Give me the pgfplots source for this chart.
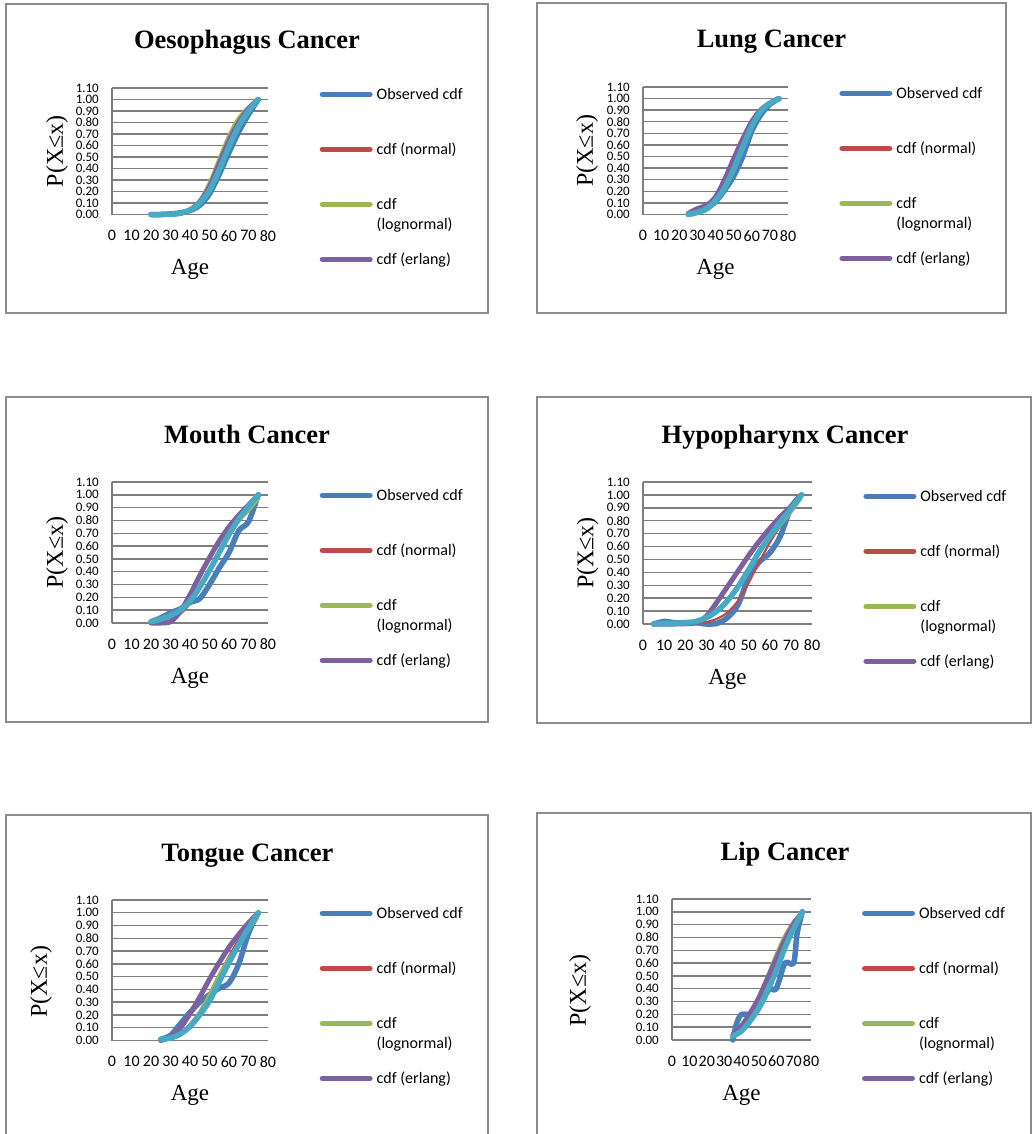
\documentclass[border=0pt]{standalone}
\usepackage{fontspec}
\setmainfont{Liberation Serif}
\newfontfamily\calibri{Carlito}
\usepackage{pgfplots}
\pgfplotsset{compat=1.18}
\definecolor{obs}{HTML}{4A7EBB}
\definecolor{nrm}{HTML}{BE4B48}
\definecolor{lgn}{HTML}{98B954}
\definecolor{erl}{HTML}{7D60A0}
\definecolor{cyn}{HTML}{46AAC5}
\definecolor{gridc}{HTML}{7F7F7F}
\definecolor{framec}{HTML}{8C8C8C}
\pgfplotsset{
  cdf/.style={
    scale only axis, anchor=south west, clip=false,
    xmin=0, xmax=80, ymin=0, ymax=1.1,
    xtick={0,10,...,80},
    ytick={0,0.1,0.2,0.3,0.4,0.5,0.6,0.7,0.8,0.9,1.0,1.1},
    axis lines*=left,
    axis line style={gridc, line width=1.4pt},
    ymajorgrids, major grid style={gridc, line width=1.4pt},
    major tick length=0pt,
    /pgf/number format/assume math mode=true,
    yticklabel style={font=\calibri\fontsize{13}{13}\selectfont, anchor=east, inner sep=0pt, xshift=-13pt,
      /pgf/number format/fixed, /pgf/number format/fixed zerofill, /pgf/number format/precision=2},
    xticklabel style={font=\calibri\fontsize{16}{16}\selectfont, anchor=north, inner sep=0pt, yshift=-15.5pt},
    xlabel={Age}, ylabel={P(X≤x)},
    every axis x label/.style={at={([yshift=-60pt]axis description cs:0.5,0)}, anchor=base, font=\fontsize{23}{23}\selectfont},
    legend image code/.code={\draw[##1, line width=5.5pt, line cap=round] (2.75pt,5.3pt) -- (50.25pt,5.3pt);},
    legend style={anchor=north west, draw=none, fill=none, inner sep=0pt,
      font=\calibri\fontsize{16}{19.5}\selectfont, row sep=44pt, column sep=4pt,
      cells={anchor=base west}, nodes={inner sep=0pt, text height=11pt, text depth=0pt}},
  },
  ylpos/.style 2 args={every axis y label/.style={at={([xshift=-#1, yshift=#2]axis description cs:0,0.5)}, rotate=90, anchor=center, font=\fontsize{24}{24}\selectfont}},
  lgpos/.style 2 args={legend style={at={([xshift=#1, yshift=#2]axis description cs:1,1)}}},
  so/.style={color=obs, line width=5.5pt, smooth, line cap=round, line join=round},
  sn/.style={color=nrm, line width=2.2pt, smooth, line cap=round, line join=round},
  sl/.style={color=lgn, line width=2.2pt, smooth, line cap=round, line join=round},
  se/.style={color=erl, line width=5pt, smooth, line cap=round, line join=round},
  sc/.style={color=cyn, line width=5.5pt, smooth, line cap=round, line join=round},
}
\newcommand{\legs}{\legend{Observed cdf, cdf (normal), {\begin{tabular}[t]{@{}l@{}}cdf\\(lognormal)\end{tabular}}, cdf (erlang)}}
\begin{document}
\begin{tikzpicture}
\useasboundingbox (0,0) rectangle (1032pt,-1134pt);
\begin{scope}[draw=framec, line width=1.3pt]
\draw (6pt,-4pt) rectangle (488pt,-313pt);
\draw (537pt,-3pt) rectangle (1006pt,-313pt);
\draw (6pt,-397pt) rectangle (488pt,-722pt);
\draw (537pt,-397pt) rectangle (1031pt,-723pt);
\draw (6pt,-815pt) rectangle (488pt,-1160pt);
\draw (537pt,-813pt) rectangle (1031pt,-1160pt);
\end{scope}
\begin{scope}[font=\bfseries\fontsize{26.5}{30}\selectfont]
\node[anchor=base] at (247pt,-49pt) {Oesophagus Cancer};
\node[anchor=base] at (771.5pt,-48pt) {Lung Cancer};
\node[anchor=base] at (247pt,-443pt) {Mouth Cancer};
\node[anchor=base] at (785pt,-443pt) {Hypopharynx Cancer};
\node[anchor=base] at (247.5pt,-861.5pt) {Tongue Cancer};
\node[anchor=base] at (785pt,-860pt) {Lip Cancer};
\end{scope}

% Oesophagus
\begin{axis}[cdf, at={(112pt,-214.5pt)}, width=156pt, height=126.5pt, ylpos={55pt}{0pt}, lgpos={51.5pt}{-0.5pt}]
\addplot[so] coordinates {(20,0) (25,0) (30,0.005) (35,0.015) (40,0.035) (45,0.08) (50,0.18) (55,0.35) (60,0.54) (65,0.72) (70,0.87) (75,1.0)};
\addplot[sn] coordinates {(20,0) (25,0) (30,0.002) (35,0.01) (40,0.04) (45,0.11) (50,0.25) (55,0.45) (60,0.66) (65,0.82) (70,0.93) (75,1.0)};
\addplot[sl] coordinates {(20,0) (25,0) (30,0) (35,0.005) (40,0.04) (45,0.13) (50,0.29) (55,0.50) (60,0.70) (65,0.85) (70,0.94) (75,1.0)};
\addplot[se] coordinates {(20,0) (25,0) (30,0.002) (35,0.01) (40,0.04) (45,0.11) (50,0.24) (55,0.44) (60,0.64) (65,0.80) (70,0.92) (75,1.0)};
\addplot[sc] coordinates {(20,0) (25,0) (30,0.003) (35,0.012) (40,0.04) (45,0.10) (50,0.21) (55,0.39) (60,0.59) (65,0.77) (70,0.90) (75,1.0)};
\legs
\end{axis}

% Lung
\begin{axis}[cdf, at={(643pt,-214.5pt)}, width=145pt, height=127.5pt, ylpos={56pt}{0pt}, lgpos={51.2pt}{-0.5pt}]
\addplot[so] coordinates {(25,0) (30,0.02) (35,0.05) (40,0.11) (45,0.21) (50,0.33) (55,0.50) (60,0.72) (65,0.86) (70,0.95) (75,1.0)};
\addplot[sn] coordinates {(25,0.005) (30,0.02) (35,0.05) (40,0.12) (45,0.25) (50,0.43) (55,0.62) (60,0.79) (65,0.90) (70,0.96) (75,1.0)};
\addplot[sl] coordinates {(25,0) (30,0.005) (35,0.03) (40,0.10) (45,0.25) (50,0.46) (55,0.66) (60,0.82) (65,0.92) (70,0.97) (75,1.0)};
\addplot[se] coordinates {(25,0.01) (30,0.05) (35,0.08) (40,0.15) (45,0.30) (50,0.48) (55,0.65) (60,0.80) (65,0.90) (70,0.96) (75,1.0)};
\addplot[sc] coordinates {(25,0) (30,0.02) (35,0.05) (40,0.12) (45,0.23) (50,0.39) (55,0.58) (60,0.76) (65,0.89) (70,0.96) (75,1.0)};
\legs
\end{axis}

% Mouth
\begin{axis}[cdf, at={(112pt,-623pt)}, width=156pt, height=141pt, ylpos={55pt}{0pt}, lgpos={51.5pt}{-7.5pt}]
\addplot[so] coordinates {(20,0.01) (25,0.04) (30,0.08) (35,0.11) (40,0.16) (45,0.19) (50,0.30) (55,0.43) (60,0.55) (65,0.72) (70,0.79) (75,1.0)};
\addplot[sn] coordinates {(20,0) (25,0.005) (30,0.02) (35,0.07) (40,0.15) (45,0.27) (50,0.42) (55,0.57) (60,0.71) (65,0.83) (70,0.92) (75,1.0)};
\addplot[sl] coordinates {(20,0) (25,0.005) (30,0.03) (35,0.08) (40,0.17) (45,0.29) (50,0.43) (55,0.57) (60,0.69) (65,0.79) (70,0.87) (75,0.96)};
\addplot[se] coordinates {(20,0) (25,0) (30,0.01) (35,0.09) (40,0.22) (45,0.37) (50,0.51) (55,0.64) (60,0.75) (65,0.84) (70,0.92) (75,1.0)};
\addplot[sc] coordinates {(20,0.01) (25,0.03) (30,0.06) (35,0.10) (40,0.17) (45,0.28) (50,0.41) (55,0.55) (60,0.69) (65,0.81) (70,0.91) (75,1.0)};
\legs
\end{axis}

% Hypopharynx
\begin{axis}[cdf, at={(643pt,-624pt)}, width=169pt, height=142pt, ylpos={55.5pt}{0pt}, lgpos={51.2pt}{-8.5pt}]
\addplot[so] coordinates {(5,0) (10,0.02) (15,0.01) (20,0.01) (25,0.01) (30,0.0) (35,0.005) (40,0.05) (45,0.15) (50,0.36) (55,0.48) (60,0.55) (65,0.68) (70,0.90) (75,1.0)};
\addplot[sn] coordinates {(5,0) (10,0) (15,0) (20,0.002) (25,0.005) (30,0.015) (35,0.04) (40,0.09) (45,0.18) (50,0.32) (55,0.48) (60,0.63) (65,0.76) (70,0.87) (75,1.0)};
\addplot[sl] coordinates {(5,0) (10,0) (15,0) (20,0.003) (25,0.01) (30,0.04) (35,0.09) (40,0.17) (45,0.28) (50,0.41) (55,0.54) (60,0.66) (65,0.76) (70,0.86) (75,0.97)};
\addplot[se] coordinates {(5,0) (10,0) (15,0) (20,0.002) (25,0.01) (30,0.06) (35,0.17) (40,0.29) (45,0.41) (50,0.53) (55,0.64) (60,0.74) (65,0.83) (70,0.91) (75,1.0)};
\addplot[sc] coordinates {(5,0) (10,0.005) (15,0.005) (20,0.01) (25,0.02) (30,0.05) (35,0.10) (40,0.18) (45,0.29) (50,0.42) (55,0.56) (60,0.68) (65,0.79) (70,0.89) (75,1.0)};
\legs
\end{axis}

% Tongue
\begin{axis}[cdf, at={(112pt,-1040.5pt)}, width=156pt, height=140.5pt, ylpos={71pt}{-11.5pt}, lgpos={51.5pt}{-7.5pt}]
\addplot[so] coordinates {(25,0.01) (30,0.04) (35,0.13) (40,0.22) (45,0.30) (50,0.36) (55,0.41) (60,0.45) (65,0.60) (70,0.84) (75,1.0)};
\addplot[sn] coordinates {(25,0) (30,0.02) (35,0.06) (40,0.13) (45,0.23) (50,0.37) (55,0.52) (60,0.66) (65,0.79) (70,0.90) (75,1.0)};
\addplot[sl] coordinates {(25,0) (30,0.01) (35,0.05) (40,0.12) (45,0.23) (50,0.37) (55,0.52) (60,0.65) (65,0.76) (70,0.86) (75,0.96)};
\addplot[se] coordinates {(25,0) (30,0.03) (35,0.10) (40,0.21) (45,0.34) (50,0.48) (55,0.61) (60,0.73) (65,0.83) (70,0.92) (75,1.0)};
\addplot[sc] coordinates {(25,0.01) (30,0.02) (35,0.05) (40,0.11) (45,0.20) (50,0.31) (55,0.46) (60,0.61) (65,0.75) (70,0.88) (75,1.0)};
\legs
\end{axis}

% Lip
\begin{axis}[cdf, at={(672pt,-1040pt)}, width=139pt, height=141pt, ylpos={92pt}{-21pt}, lgpos={50.8pt}{-8.5pt}]
\addplot[so] coordinates {(35,0) (37,0.12) (40,0.20) (47,0.20) (52,0.30) (56,0.40) (60,0.40) (65,0.60) (70,0.60) (72,0.83) (75,1.0)};
\addplot[sn] coordinates {(35,0.03) (40,0.09) (45,0.19) (50,0.33) (55,0.50) (60,0.67) (65,0.82) (70,0.93) (75,1.0)};
\addplot[sl] coordinates {(35,0.02) (40,0.08) (45,0.19) (50,0.34) (55,0.51) (60,0.68) (65,0.82) (70,0.92) (75,0.99)};
\addplot[se] coordinates {(35,0.04) (40,0.11) (45,0.21) (50,0.33) (55,0.48) (60,0.63) (65,0.78) (70,0.90) (75,1.0)};
\addplot[sc] coordinates {(35,0.03) (40,0.07) (45,0.15) (50,0.25) (55,0.39) (60,0.54) (65,0.72) (70,0.87) (75,1.0)};
\legs
\end{axis}
\end{tikzpicture}
\end{document}
